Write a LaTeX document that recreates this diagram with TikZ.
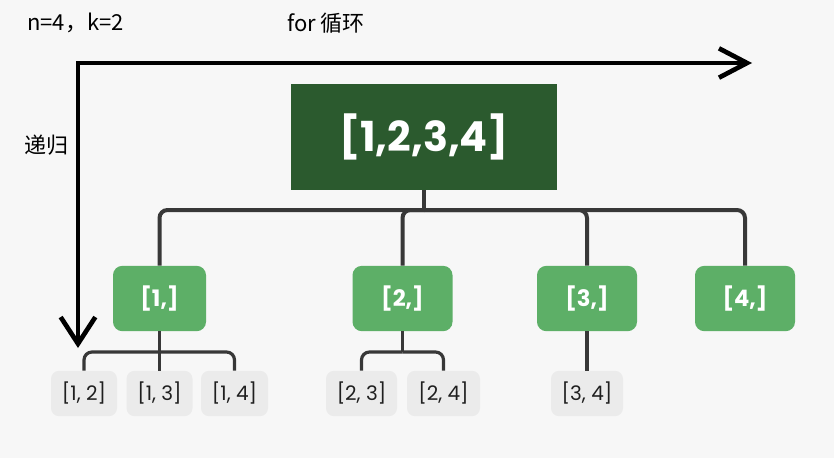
\documentclass[tikz,border=0pt]{standalone}
\usepackage{fontspec}
\usetikzlibrary{arrows.meta}
\newfontfamily\cjkfont{Noto Sans CJK SC}
\newfontfamily\boxfont{Poppins}
\definecolor{bggray}{HTML}{F7F7F7}
\definecolor{rootgreen}{HTML}{2B5A2E}
\definecolor{childgreen}{HTML}{5DAF67}
\definecolor{leafgray}{HTML}{EBEBEB}
\definecolor{linegray}{HTML}{383838}

\begin{document}
\begin{tikzpicture}[x=0.75pt,y=-0.75pt,
        rootbox/.style={fill=rootgreen,minimum width=199.5pt,minimum height=79.5pt,text=white,font=\boxfont\bfseries\fontsize{31}{33}\selectfont},
        childbox/.style={fill=childgreen,rounded corners=7pt,minimum height=49pt,text=white,font=\boxfont\bfseries\fontsize{17}{19}\selectfont},
        leafbox/.style={fill=leafgray,rounded corners=6pt,minimum height=34pt,inner xsep=0pt,text=black!88,font=\boxfont\fontsize{15}{17}\selectfont},
        label/.style={anchor=west,inner sep=0pt,font=\cjkfont\fontsize{16.5}{19}\selectfont},
        bus/.style={draw=linegray,line width=3pt,rounded corners=6pt},
        leafline/.style={draw=linegray,line width=2.4pt,rounded corners=6pt}]
        % Background
        \fill[bggray] (0,0) rectangle (834,458);
        % Labels
        \node[label] (nk) at (27,23) {n=4，k=2};
        \node[label] (forlbl) at (287,23) {for 循环};
        \node[label] (reclbl) at (24,145) {递归};
        % Loop and recursion axes
        \coordinate (vtip) at (78,348);
        \coordinate (htip) at (752,63);
        \draw[line width=3.5pt,{Straight Barb[length=20pt,width=26pt]}-{Straight Barb[length=21pt,width=22pt]}] (vtip) |- (htip);
        % Root
        \node[rootbox] (root) at (424,137) {[1,2,3,4]};
        % First level
        \foreach \n/\x/\w/\t in {c1/159.5/93/{[1,]},c2/402.5/100/{[2,]},c3/587/100/{[3,]},c4/745/100/{[4,]}}
            \node[childbox,minimum width={0.75pt*\w}] (\n) at (\x,298.5) {\t};
        % Second level
        \foreach \n/\x/\w/\t in {l12/84/66/{[1, 2]},l13/159.5/66/{[1, 3]},l14/234.5/67/{[1, 4]},l23/361.5/71/{[2, 3]},l24/443.5/73/{[2, 4]},l34/587/72/{[3, 4]}}
            \node[leafbox,minimum width={0.75pt*\w}] (\n) at (\x,393.5) {\t};
        % Connect root to first level
        \coordinate (rootbus) at (root.south |- 0,210);
        \draw[bus] (root.south) -- (rootbus);
        \foreach \n in {c1,c2,c3,c4} \draw[bus] (rootbus) -| (\n.north);
        % Connect first level to second level
        \coordinate (c1bus) at (c1.south |- 0,352);
        \coordinate (c2bus) at (c2.south |- 0,352);
        \draw[leafline] (c1.south) -- (c1bus);
        \foreach \n in {l12,l13,l14} \draw[leafline] (c1bus) -| (\n.north);
        \draw[leafline] (c2.south) -- (c2bus);
        \foreach \n in {l23,l24} \draw[leafline] (c2bus) -| (\n.north);
        \draw[leafline] (c3.south) -- (l34.north);
\end{tikzpicture}
\end{document}
